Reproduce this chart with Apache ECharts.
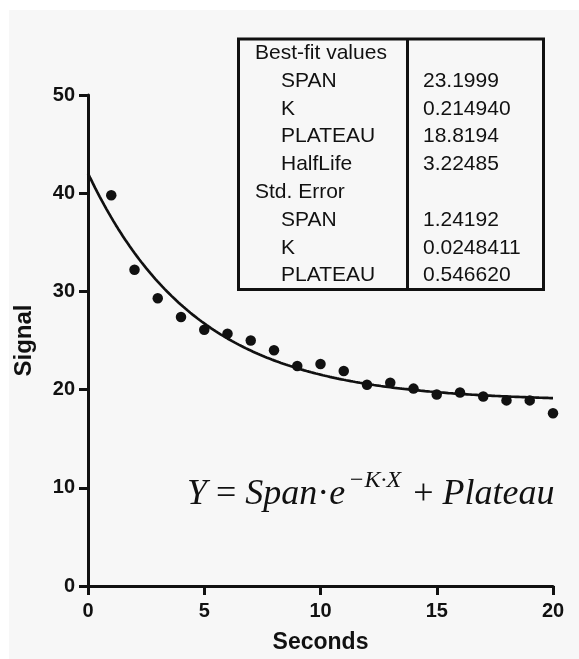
<!DOCTYPE html>
<html>
<head>
<meta charset="utf-8">
<script src="https://cdn.jsdelivr.net/npm/echarts@6/dist/echarts.min.js"></script>
<style>
  html, body { margin: 0; padding: 0; background: #ffffff; }
  #chart { width: 579px; height: 659px; }
</style>
</head>
<body>
<div id="chart"></div>
<script>
// ---- data ----
const seconds = [1, 2, 3, 4, 5, 6, 7, 8, 9, 10, 11, 12, 13, 14, 15, 16, 17, 18, 19, 20];
const signal  = [39.8, 32.2, 29.3, 27.4, 26.1, 25.7, 25.0, 24.0, 22.4, 22.6, 21.9, 20.5, 20.7, 20.1, 19.5, 19.7, 19.3, 18.9, 18.9, 17.6];
const xTicks = [0, 5, 10, 15, 20];
const yTicks = [0, 10, 20, 30, 40, 50];
const tableLabels = ['Best-fit values', 'SPAN', 'K', 'PLATEAU', 'HalfLife', 'Std. Error', 'SPAN', 'K', 'PLATEAU'];
const tableIndent = [0, 1, 1, 1, 1, 0, 1, 1, 1];
const tableValues = ['', '23.1999', '0.214940', '18.8194', '3.22485', '', '1.24192', '0.0248411', '0.546620'];
const fitSpan = 23.1999;
const fitK = 0.214940;
const fitPlateau = 18.8194;

// fitted model curve from the reported best-fit parameters
const curve = [];
for (let i = 0; i <= 200; i++) {
  const x = i / 10;
  curve.push([x, fitSpan * Math.exp(-fitK * x) + fitPlateau]);
}

const ink = '#111111';
const chart = echarts.init(document.getElementById('chart'), null, { renderer: 'canvas' });

const graphics = [
  { type: 'rect', z: -10, silent: true, shape: { x: 9, y: 10, width: 570, height: 649 }, style: { fill: '#f7f7f7' } },
  { type: 'rect', z: 10, shape: { x: 238.5, y: 39, width: 305, height: 250.5 }, style: { fill: 'none', stroke: ink, lineWidth: 3 } },
  { type: 'line', z: 10, shape: { x1: 407.5, y1: 39, x2: 407.5, y2: 289.5 }, style: { stroke: ink, lineWidth: 3 } }
];
const rowTop = 53.3, rowStep = 27.8;
tableLabels.forEach((lab, i) => {
  graphics.push({ type: 'text', z: 11, style: {
    x: tableIndent[i] ? 281 : 255, y: rowTop + i * rowStep, text: lab,
    fontSize: 21, fontFamily: 'Liberation Sans', fill: ink, verticalAlign: 'middle', align: 'left' } });
  if (tableValues[i]) {
    graphics.push({ type: 'text', z: 11, style: {
      x: 423, y: rowTop + i * rowStep, text: tableValues[i],
      fontSize: 21, fontFamily: 'Liberation Sans', fill: ink, verticalAlign: 'middle', align: 'left' } });
  }
});
graphics.push({
  type: 'text', z: 11,
  style: {
    x: 187, y: 513, align: 'left', verticalAlign: 'bottom',
    text: '{i|Y}{r| = }{i|Span}{r|·}{i|e}{s|−K·X}{r| + }{i|Plateau}',
    rich: {
      i: { fontFamily: 'Liberation Serif', fontStyle: 'italic', fontSize: 36, lineHeight: 38, fill: ink, verticalAlign: 'bottom' },
      r: { fontFamily: 'Liberation Serif', fontSize: 36, lineHeight: 38, fill: ink, verticalAlign: 'bottom' },
      s: { fontFamily: 'Liberation Serif', fontStyle: 'italic', fontSize: 24, lineHeight: 24, padding: [0, 3, 20, 3], fill: ink, verticalAlign: 'bottom' }
    }
  }
});

const axisCommon = {
  type: 'value',
  axisLine: { show: true, onZero: false, lineStyle: { color: ink, width: 3 } },
  axisTick: { show: true, length: 9, lineStyle: { color: ink, width: 3 } },
  splitLine: { show: false },
  axisLabel: { color: ink, fontSize: 20, fontWeight: 'bold', fontFamily: 'Liberation Sans' },
  nameLocation: 'middle',
  nameTextStyle: { color: ink, fontSize: 23, fontWeight: 'bold', fontFamily: 'Liberation Sans' }
};

chart.setOption({
  animation: false,
  backgroundColor: 'transparent',
  grid: { left: 88, right: 26, top: 95, bottom: 68, containLabel: false },
  xAxis: Object.assign({}, axisCommon, {
    min: xTicks[0], max: xTicks[xTicks.length - 1], interval: xTicks[1] - xTicks[0],
    name: 'Seconds', nameGap: 45,
    axisLabel: Object.assign({}, axisCommon.axisLabel, { margin: 15 })
  }),
  yAxis: Object.assign({}, axisCommon, {
    min: yTicks[0], max: yTicks[yTicks.length - 1], interval: yTicks[1] - yTicks[0],
    name: 'Signal', nameGap: 52,
    nameTextStyle: Object.assign({}, axisCommon.nameTextStyle, { fontSize: 24 }),
    axisLabel: Object.assign({}, axisCommon.axisLabel, { margin: 13 })
  }),
  series: [
    { type: 'line', data: curve, showSymbol: false, symbol: 'none', smooth: false,
      lineStyle: { color: ink, width: 2.7 }, z: 2 },
    { type: 'scatter', data: seconds.map((x, i) => [x, signal[i]]), symbol: 'circle', symbolSize: 10.5,
      itemStyle: { color: ink, opacity: 1 }, z: 3 }
  ],
  graphic: graphics
});
</script>
</body>
</html>
